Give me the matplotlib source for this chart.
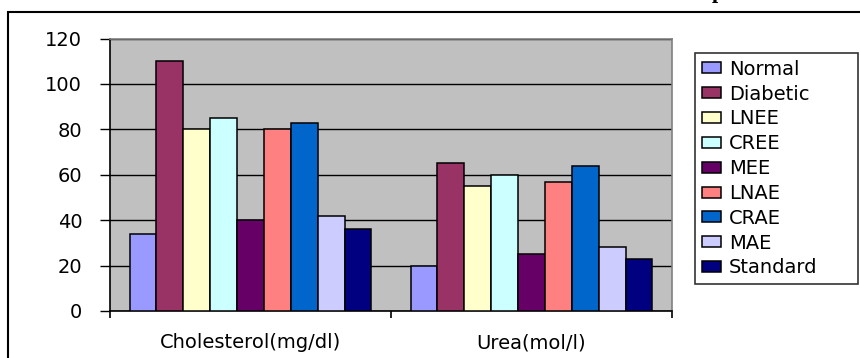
import numpy as np
import matplotlib.pyplot as plt
from matplotlib.patches import Rectangle

categories = ['Cholesterol(mg/dl)', 'Urea(mol/l)']
groups = ['Normal', 'Diabetic', 'LNEE', 'CREE', 'MEE', 'LNAE', 'CRAE', 'MAE', 'Standard']
values = {
    'Normal':   [34, 20],
    'Diabetic': [110, 65],
    'LNEE':     [80, 55],
    'CREE':     [85, 60],
    'MEE':      [40, 25],
    'LNAE':     [80, 57],
    'CRAE':     [83, 64],
    'MAE':      [42, 28],
    'Standard': [36, 23],
}
colors = ['#9999FF', '#993366', '#FFFFCC', '#CCFFFF', '#660066',
          '#FF8080', '#0066CC', '#CCCCFF', '#000080']
yticks = [0, 20, 40, 60, 80, 100, 120]

# the reference text is wide; DejaVu Sans is the widest face available
plt.rcParams['font.family'] = ['DejaVu Sans']

fig = plt.figure(figsize=(8.6, 3.58), dpi=100)
W, H = 860, 358
ax = fig.add_axes([110 / W, (H - 311) / H, (672 - 110) / W, (311 - 38.5) / H])

x = np.arange(len(categories))
bw = 1 / (len(groups) + 1.46)
for i, g in enumerate(groups):
    offs = (i - (len(groups) - 1) / 2) * bw
    ax.bar(x + offs, values[g], bw, color=colors[i], edgecolor='black',
           linewidth=1.1, label=g, zorder=3)

ax.set_facecolor('#C0C0C0')
ax.set_xlim(-0.5, 1.5)
ax.set_ylim(0, 120)
ax.set_yticks(yticks)
ax.yaxis.grid(True, color='black', linewidth=1, zorder=1)
ax.set_axisbelow(True)
ax.tick_params(axis='y', labelsize=14, length=7, width=1, direction='out', pad=13)

ax.set_xticks(x)
ax.set_xticklabels(categories, fontsize=14)
ax.tick_params(axis='x', which='major', length=0, pad=16)
ax.set_xticks([-0.5, 0.5, 1.5], minor=True)
ax.tick_params(axis='x', which='minor', length=5, width=1.2, direction='out')

for s in ['top', 'right']:
    ax.spines[s].set_color('#808080')
    ax.spines[s].set_linewidth(1.2)
for s in ['left', 'bottom']:
    ax.spines[s].set_color('black')
    ax.spines[s].set_linewidth(1.2)

leg = fig.legend(loc='upper left',
                 bbox_to_anchor=(695 / W, (H - 287) / H, (858 - 695) / W, (287 - 53) / H),
                 mode='expand', fontsize=14, frameon=True, fancybox=False,
                 edgecolor='black', handlelength=1.0, handleheight=0.5,
                 handletextpad=0.4, labelspacing=0.3, borderpad=0.35,
                 borderaxespad=0)
leg.get_frame().set_linewidth(1.2)

# outer chart border (cropped on right and bottom)
fig.add_artist(Rectangle((8 / W, -0.2), 1.0, 1.2 - 12 / H, transform=fig.transFigure,
                         fill=False, edgecolor='black', linewidth=1.5))

# cropped title fragment
fig.text(712 / W, 1 + 2 / H, 'p', fontsize=16, fontweight='bold',
         family=['Liberation Serif', 'DejaVu Serif'], va='baseline')

fig.savefig('out.png', dpi=100)
